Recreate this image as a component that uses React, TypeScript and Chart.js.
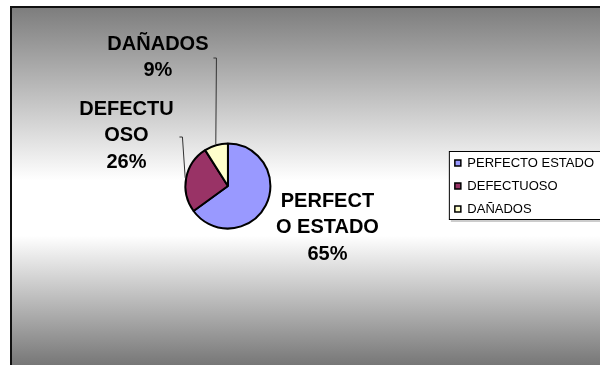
import React, { useEffect, useRef } from "react";
import { Chart, registerables } from "chart.js";

Chart.register(...registerables);

// ---- data ----
const categories = ["PERFECTO ESTADO", "DEFECTUOSO", "DAÑADOS"];
const values = [65, 26, 9];
// data-label text as wrapped in the original
const dataLabelLines = [["PERFECT", "O ESTADO"], ["DEFECTU", "OSO"], ["DAÑADOS"]];
const sliceColors = ["#9999FF", "#993366", "#FFFFCC"];

// ---- style / layout (relative to pie centre, px) ----
const LABEL_OFFSETS = [
  { dx: 99.5, dy: 41.5 },
  { dx: -101.5, dy: -50.5 },
  { dx: -70, dy: -128.5 },
];
const LEADER_STARTS: ({ dx: number; dy: number } | null)[] = [
  null,
  { dx: -48.5, dy: -49 },
  { dx: -14.5, dy: -128 },
];
const FONT = "'Liberation Sans', Arial, sans-serif";

const backgroundPlugin = {
  id: "bgPlugin",
  beforeDraw(chart: any) {
    const { ctx, width, height } = chart;
    ctx.save();
    ctx.fillStyle = "#ffffff";
    ctx.fillRect(0, 0, width, height);
    const x0 = 10,
      y0 = 6;
    const g = ctx.createLinearGradient(0, y0, 0, height);
    g.addColorStop(0, "#7c7c7c");
    g.addColorStop(0.485, "#ffffff");
    g.addColorStop(0.64, "#ffffff");
    g.addColorStop(1, "#777777");
    ctx.fillStyle = g;
    ctx.fillRect(x0, y0, width - x0, height - y0);
    ctx.fillStyle = "#111111";
    ctx.fillRect(x0, y0, 2, height - y0);
    ctx.fillRect(x0, y0, width - x0, 2);

    // legend frame
    const lg = chart.legend;
    if (lg && lg.legendHitBoxes && lg.legendHitBoxes.length) {
      const hb = lg.legendHitBoxes;
      const left = hb[0].left - 6;
      const top = hb[0].top + hb[0].height / 2 - 12;
      const last = hb[hb.length - 1];
      const bottom = last.top + last.height / 2 + 10;
      ctx.fillStyle = "#ffffff";
      ctx.fillRect(left, top, width - left + 5, bottom - top);
      ctx.strokeStyle = "#000000";
      ctx.lineWidth = 1;
      ctx.strokeRect(left + 0.5, top + 0.5, width - left + 5, bottom - top);
      ctx.strokeStyle = "#999999";
      ctx.beginPath();
      ctx.moveTo(left + 2, bottom + 2);
      ctx.lineTo(width, bottom + 2);
      ctx.stroke();
    }
    ctx.restore();
  },
};

const dataLabelPlugin = {
  id: "pieLabels",
  afterDatasetsDraw(chart: any) {
    const { ctx } = chart;
    const meta = chart.getDatasetMeta(0);
    const total = values.reduce((a, b) => a + b, 0);
    ctx.save();
    meta.data.forEach((arc: any, i: number) => {
      const cx = arc.x,
        cy = arc.y;
      const mid = (arc.startAngle + arc.endAngle) / 2;
      const r = arc.outerRadius + 1;
      const ex = cx + Math.cos(mid) * r;
      const ey = cy + Math.sin(mid) * r;
      const ls = LEADER_STARTS[i];
      if (ls) {
        ctx.strokeStyle = "#333333";
        ctx.lineWidth = 1;
        ctx.beginPath();
        ctx.moveTo(cx + ls.dx, cy + ls.dy);
        ctx.lineTo(cx + ls.dx + 3, cy + ls.dy);
        ctx.lineTo(ex, ey);
        ctx.stroke();
      }
      const pct = Math.round((values[i] / total) * 100) + "%";
      const lines = [...dataLabelLines[i], pct];
      const lh = 26.5;
      const bx = cx + LABEL_OFFSETS[i].dx;
      const by = cy + LABEL_OFFSETS[i].dy;
      ctx.fillStyle = "#000000";
      ctx.font = `bold 20px ${FONT}`;
      ctx.textAlign = "center";
      ctx.textBaseline = "middle";
      lines.forEach((t, k) => {
        ctx.fillText(t, bx, by + (k - (lines.length - 1) / 2) * lh);
      });
    });
    ctx.restore();
  },
};

export default function App() {
  const ref = useRef<HTMLCanvasElement>(null);
  useEffect(() => {
    if (!ref.current) return;
    const chart = new Chart(ref.current, {
      type: "pie",
      data: {
        labels: categories,
        datasets: [
          {
            data: values,
            backgroundColor: sliceColors,
            borderColor: "#000000",
            borderWidth: 2,
            radius: 42.5,
          } as any,
        ],
      },
      options: {
        responsive: false,
        animation: false,
        layout: { padding: { left: 11, right: -4, top: 7, bottom: 0 } },
        plugins: {
          tooltip: { enabled: false },
          legend: {
            display: true,
            position: "right",
            labels: {
              boxWidth: 6,
              boxHeight: 6,
              padding: 10,
              color: "#000000",
              font: { family: FONT, size: 13 },
              generateLabels: () =>
                categories.map((c, i) => ({
                  text: c,
                  fillStyle: sliceColors[i],
                  strokeStyle: "#000000",
                  lineWidth: 1.5,
                  hidden: false,
                  index: i,
                  fontColor: "#000000",
                })),
            },
          },
        },
      },
      plugins: [backgroundPlugin, dataLabelPlugin],
    });
    return () => chart.destroy();
  }, []);
  return (
    <div style={{ position: "fixed", left: 0, top: 0, width: 600, height: 365 }}>
      <canvas ref={ref} width={600} height={365} style={{ display: "block" }} />
    </div>
  );
}
